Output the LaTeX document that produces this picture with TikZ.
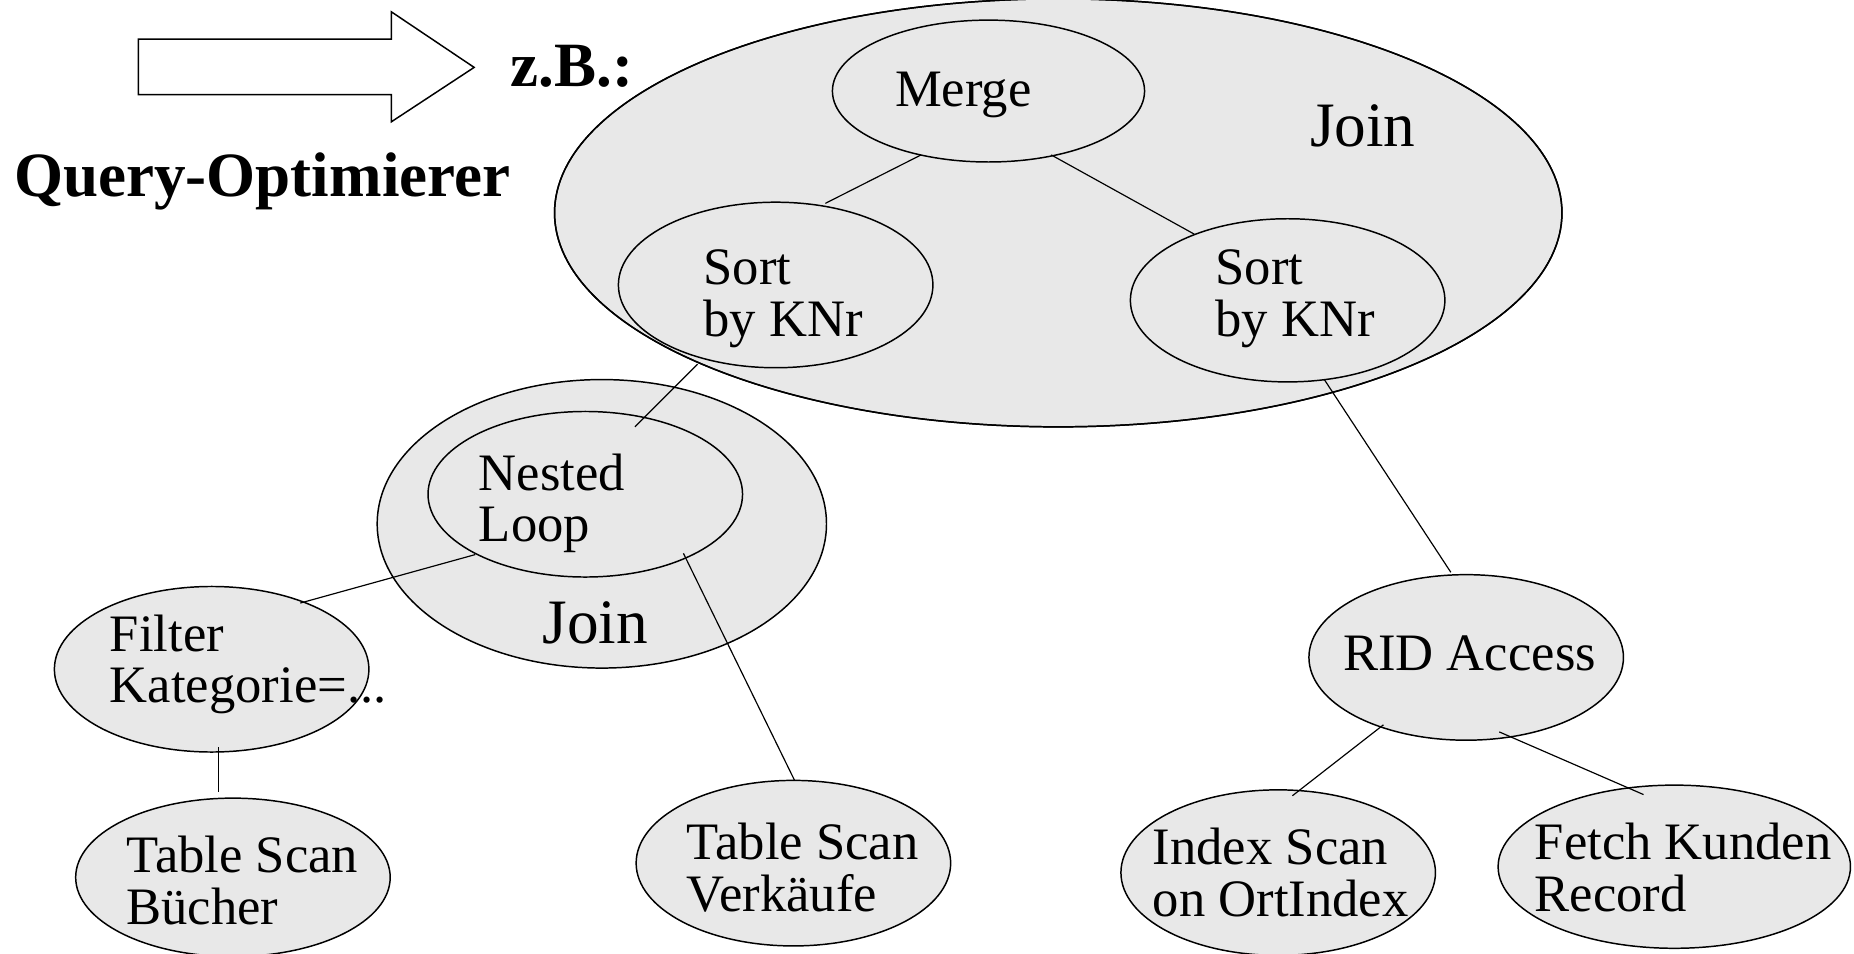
\documentclass[tikz,border=0pt]{standalone}
\usepackage{fontspec}
\setmainfont{Liberation Serif}
\usetikzlibrary{shapes.geometric,calc}
\definecolor{opfill}{RGB}{232,232,232}

\begin{document}
\begin{tikzpicture}[x=0.6pt,y=-0.6pt,
  op/.style={ellipse,draw,fill=opfill,line width=0.75pt,inner sep=0pt,outer sep=0pt},
  radii/.style 2 args={minimum width=#1*1.2pt,minimum height=#2*1.2pt},
  lbl/.style={anchor=base west,inner sep=0pt,outer sep=0pt,font=\fontsize{26.7}{25.8}\selectfont},
  biglbl/.style={anchor=base west,inner sep=0pt,outer sep=0pt,font=\fontsize{32.1}{32}\selectfont},
  headline/.style={anchor=base west,inner sep=0pt,outer sep=0pt,font=\fontsize{32}{32}\selectfont\bfseries},
  edge/.style={line width=0.6pt}]

\useasboundingbox (0,0) rectangle (1568,806);

% block arrow towards the example
\draw[line width=0.75pt,fill=white,line join=miter]
  (117,33) -- (331,33) -- (331,10) -- (401,57) -- (331,103) -- (331,80) -- (117,80) -- cycle;
\node[headline] (zb) at (432,73) {z.B.:};
\node[headline] (qo) at (12,166) {Query-Optimierer};

% merge join group
\node[op,radii={426}{181}] (joinA) at (895,180) {};
\node[op,radii={132}{60}] (merge) at (836,77) {};
\node[op,radii={133}{70}] (sortL) at (656,241) {};
\node[op,radii={133}{69}] (sortR) at (1089,254) {};
\draw[line width=0.75pt] (joinA.center) ellipse [x radius=426, y radius=181];

% nested loop join group
\node[op,radii={190}{122}] (joinB) at (509,443) {};
\node[op,radii={133}{70}] (nested) at (495,418) {};

% leaves and access operators
\node[op,radii={133}{70}] (filter) at (179,566) {};
\node[op,radii={133}{67}] (scanB) at (197,742) {};
\node[op,radii={133}{70}] (scanV) at (671,730) {};
\node[op,radii={133}{70}] (rid) at (1240,556) {};
\node[op,radii={133}{70}] (idx) at (1081,738) {};
\node[op,radii={149}{69}] (fetch) at (1416,733) {};

% tree edges
\draw[edge] ($(merge)+(-57,54)$) -- ($(sortL)+(42,-69)$);
\draw[edge] ($(merge)+(53,54)$) -- ($(sortR)+(-79,-56)$);
\draw[edge] ($(sortL)+(-66,67)$) -- ($(nested)+(42,-57)$);
\draw[edge] ($(nested)+(-93,51)$) -- ($(filter)+(75,-56)$);
\draw[edge] ($(nested)+(83,50)$) -- ($(scanV)+(1,-70)$);
\draw[edge] ($(filter)+(6,66)$) -- ($(scanB)+(-12,-72)$);
\draw[edge] ($(sortR)+(31,67)$) -- ($(rid)+(-13,-72)$);
\draw[edge] ($(rid)+(-70,57)$) -- ($(idx)+(12,-65)$);
\draw[edge] ($(rid)+(28,63)$) -- ($(fetch)+(-26,-61)$);

% labels
\node[lbl] (mergeT) at (757,90) {Merge};
\node[biglbl] (joinAT) at (1108,124) {Join};
\node[lbl] (sortLT) at (595,241) {\begin{tabular}[t]{@{}l@{}}Sort\\by KNr\end{tabular}};
\node[lbl] (sortRT) at (1028,241) {\begin{tabular}[t]{@{}l@{}}Sort\\by KNr\end{tabular}};
\node[lbl] (nestedT) at (405,415) {\begin{tabular}[t]{@{}l@{}}Nested\\Loop\end{tabular}};
\node[biglbl] (joinBT) at (459,544) {Join};
\node[lbl] (filterT) at (93,551) {\begin{tabular}[t]{@{}l@{}}Filter\\Kategorie=...\end{tabular}};
\node[lbl] (scanBT) at (107,738) {\begin{tabular}[t]{@{}l@{}}Table Scan\\Bücher\end{tabular}};
\node[lbl] (scanVT) at (581,727) {\begin{tabular}[t]{@{}l@{}}Table Scan\\Verkäufe\end{tabular}};
\node[lbl] (ridT) at (1136,567) {RID Access};
\node[lbl] (idxT) at (975,731) {\begin{tabular}[t]{@{}l@{}}Index Scan\\on OrtIndex\end{tabular}};
\node[lbl] (fetchT) at (1298,727) {\begin{tabular}[t]{@{}l@{}}Fetch Kunden\\Record\end{tabular}};
\end{tikzpicture}
\end{document}
